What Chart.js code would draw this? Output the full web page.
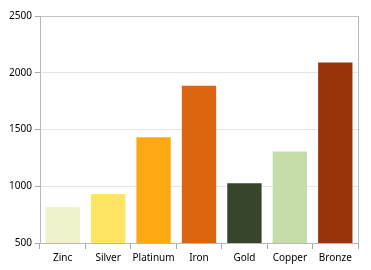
<!DOCTYPE html>
<html>
<head>
<meta charset="utf-8">
<script src="https://cdn.jsdelivr.net/npm/chart.js@4"></script>
<style>
html,body{margin:0;padding:0;background:#fff;}
#wrap{width:371px;height:270px;}
</style>
</head>
<body>
<div id="wrap"><canvas id="c" width="371" height="270"></canvas></div>
<script>
const categories = ['Zinc','Silver','Platinum','Iron','Gold','Copper','Bronze'];
const values = [825, 940, 1440, 1895, 1035, 1315, 2100];
const barColors = ['#F0F2CC','#FFE363','#FFA912','#DC650F','#36452C','#C6DDAA','#973409'];
const yTicks = [500, 1000, 1500, 2000, 2500];

const FONT = {family: 'Noto Sans', size: 10};
new Chart(document.getElementById('c'), {
  type: 'bar',
  data: {
    labels: categories,
    datasets: [{
      data: values,
      backgroundColor: barColors,
      borderColor: 'rgba(255,255,255,0.45)',
      borderWidth: 1,
      borderSkipped: 'bottom',
      categoryPercentage: 0.8,
      barPercentage: 1.0
    }]
  },
  options: {
    responsive: false,
    animation: false,
    devicePixelRatio: 1,
    layout: {padding: {left: 0, right: 13, top: 16, bottom: 0}},
    plugins: {legend: {display: false}, tooltip: {enabled: false}},
    scales: {
      x: {
        grid: {drawOnChartArea: false, drawTicks: true, tickLength: 6, tickColor: '#a6a6a6'},
        border: {color: '#b8b8b8', width: 1},
        ticks: {color: '#000', font: FONT, padding: 3, maxRotation: 0, minRotation: 0, autoSkip: false},
        afterFit: (s) => { s.height = 27; }
      },
      y: {
        min: 500, max: 2500,
        afterBuildTicks: (s) => { s.ticks = yTicks.map(v => ({value: v})); },
        grid: {
          color: (ctx) => (ctx.tick && ctx.tick.value === 2500) ? '#c4c4c4' : '#e4e4e4',
          tickLength: 5, tickColor: '#a6a6a6'
        },
        border: {color: '#b8b8b8', width: 1},
        ticks: {color: '#000', font: FONT, padding: 3, callback: (v) => String(v)},
        afterFit: (s) => { s.width = 40; }
      },
      yr: {
        position: 'right',
        min: 500, max: 2500,
        grid: {drawOnChartArea: false, drawTicks: false},
        border: {color: '#b8b8b8', width: 1},
        ticks: {display: false},
        afterFit: (s) => { s.width = 0; }
      }
    }
  }
});
</script>
</body>
</html>
